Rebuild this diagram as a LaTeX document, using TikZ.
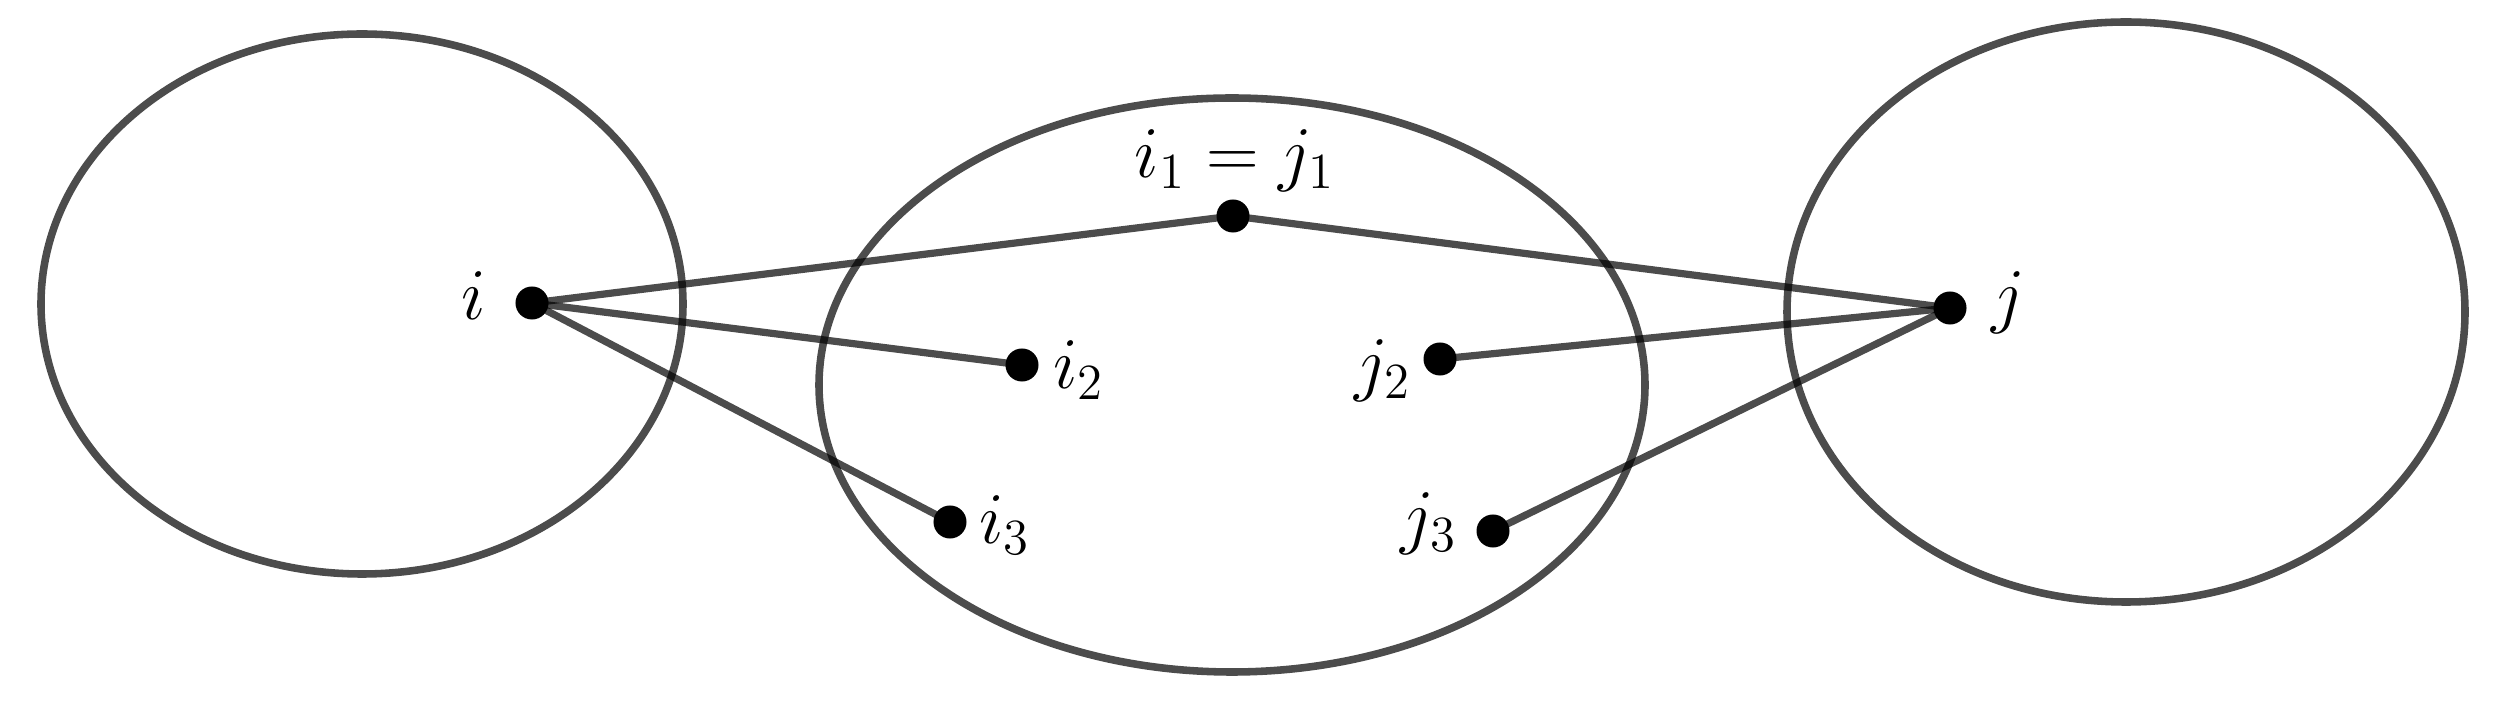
\documentclass[tikz,border=0pt]{standalone}
\begin{document}
\begin{tikzpicture}[x=0.01cm,y=-0.01cm,
  blob/.style={draw=black,draw opacity=0.7,line width=2.15pt},
  link/.style={draw=black,draw opacity=0.7,line width=2.05pt},
  vtx/.style={circle,fill=black,inner sep=0pt,minimum size=0.33cm},
  lab/.style={inner sep=0pt,font=\fontsize{21}{25}\selectfont}]
\useasboundingbox (0,0) rectangle (2508,716);
% clusters
\draw[blob] (362,304) ellipse [x radius=321, y radius=270];
\draw[blob] (1232,385) ellipse [x radius=413, y radius=287];
\draw[blob] (2126,312) ellipse [x radius=339, y radius=290];
% vertices (positions)
\coordinate (ci) at (532,303);
\coordinate (ci1) at (1233,216);
\coordinate (ci2) at (1022,365);
\coordinate (ci3) at (950,522);
\coordinate (cj) at (1950,308);
\coordinate (cj2) at (1440,359);
\coordinate (cj3) at (1493,531);
% connectors
\draw[link] (ci) -- (ci1);
\draw[link] (ci) -- (ci2);
\draw[link] (ci) -- (ci3);
\draw[link] (ci1) -- (cj);
\draw[link] (cj2) -- (cj);
\draw[link] (cj3) -- (cj);
% dots
\node[vtx] (i) at (ci) {};
\node[vtx] (i1) at (ci1) {};
\node[vtx] (i2) at (ci2) {};
\node[vtx] (i3) at (ci3) {};
\node[vtx] (j) at (cj) {};
\node[vtx] (j2) at (cj2) {};
\node[vtx] (j3) at (cj3) {};
% labels
\node[lab] (li) at (474,296) {$i$};
\node[lab] (li1) at (1235,161) {$i_1 = j_1$};
\node[lab] (li2) at (1079,370) {$i_2$};
\node[lab] (li3) at (1005,525) {$i_3$};
\node[lab] (lj) at (2008,303) {$j$};
\node[lab] (lj2) at (1383,371) {$j_2$};
\node[lab] (lj3) at (1429,524) {$j_3$};
\end{tikzpicture}
\end{document}
